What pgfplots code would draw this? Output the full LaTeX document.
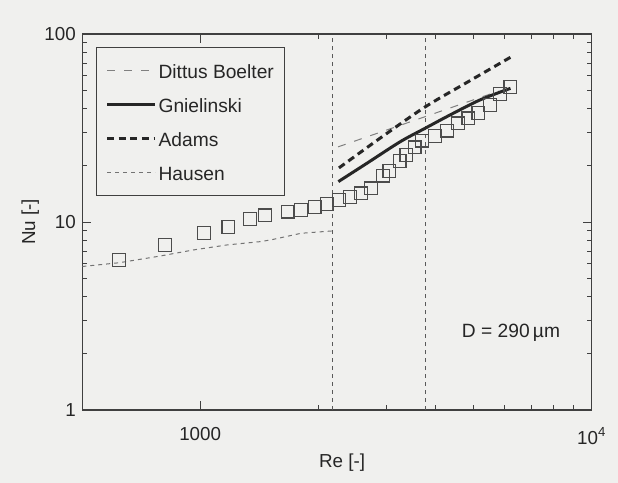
\documentclass[border=0pt]{standalone}
\usepackage{pgfplots}
\pgfplotsset{compat=1.18}
\usepackage{fontspec}
\setmainfont{Liberation Sans}
\definecolor{bg}{RGB}{240,240,238}
\begin{document}
\fontsize{9.2}{11}\selectfont
\begin{tikzpicture}
\path[use as bounding box, fill=bg] (-41.15pt,-36.5pt) rectangle (267.85pt,205pt);
\begin{axis}[
  at={(0,0)}, anchor=south west,
  scale only axis, width=254.7pt, height=188pt,
  xmode=log, ymode=log,
  xmin=500, xmax=10000, ymin=1, ymax=100,
  xtick={1000,10000}, xticklabels={1000,10\textsuperscript{4}},
  ytick={1,10,100}, yticklabels={1,10,100},
  /pgf/number format/assume math mode=true,
  tick align=inside,
  major tick length=4.5pt, minor tick length=2.5pt,
  axis line style={draw=black!75, line width=0.6pt},
  every tick/.style={draw=black!75, line width=0.5pt},
  tick label style={font=\fontsize{9.4}{11}\selectfont, text=black!85},
  xticklabel style={yshift=-5.5pt},
  label style={font=\fontsize{9.4}{11}\selectfont, text=black!85},
  xlabel={Re [-]}, ylabel={Nu [-]},
  xlabel style={at={(axis description cs:0.51,0)}, anchor=center, yshift=-26.5pt},
  ylabel style={at={(axis description cs:-0.102,0.5)}, anchor=center},
  legend style={at={(0.0269,0.9662)}, anchor=north west, draw=black!75,
    line width=0.6pt, fill=bg, font=\fontsize{9.6}{11}\selectfont,
    inner xsep=4.5pt, inner ysep=5.5pt, row sep=5pt, text=black!85,
    cells={anchor=west},
    nodes={inner sep=1pt, text height=9pt, text depth=1pt}},
  legend image code/.code={\draw[#1] (0pt,0pt) -- (24pt,0pt);},
]
% vertical transition lines
\addplot[forget plot, black!65, line width=0.6pt, dash pattern=on 2pt off 2pt] coordinates {(2180,1) (2180,100)};
\addplot[forget plot, black!65, line width=0.6pt, dash pattern=on 2pt off 2pt] coordinates {(3760,1) (3760,100)};
% Dittus Boelter
\addplot[black!50, line width=0.5pt, dash pattern=on 4pt off 4.5pt] coordinates {
 (2250,25.1) (3865,37.1) (5800,49.8)};
\addlegendentry{Dittus Boelter}
% Gnielinski
\addplot[black!85, line width=1.5pt, smooth] coordinates {
 (2254,16.4) (2663,20.5) (3240,26.7) (3752,31.5) (4347,37.1) (5185,44.6) (6202,51.4)};
\addlegendentry{Gnielinski}
% Adams
\addplot[black!85, line width=1.5pt, dash pattern=on 3.5pt off 2.3pt, smooth] coordinates {
 (2262,19.4) (2880,27.9) (3752,40.9) (4818,55.5) (6202,75.2)};
\addlegendentry{Adams}
% Hausen
\addplot[black!55, line width=0.5pt, dash pattern=on 2pt off 2pt] coordinates {
 (500,5.8) (620,6.07) (790,6.59) (960,7.1) (1170,7.55) (1420,7.86) (1510,8.02) (1810,8.71) (2170,8.96)};
\addlegendentry{Hausen}
% measurements
\addplot[forget plot, only marks, mark=square, mark size=3.2pt, mark options={draw=black!70, line width=0.6pt, fill=none}] coordinates {
 (621,6.28) (813,7.52) (1023,8.77) (1180,9.44) (1341,10.34) (1464,10.85) (1673,11.35)
 (1810,11.58) (1960,12.06) (2105,12.51) (2262,13.05) (2415,13.63) (2574,14.18) (2733,15.11)
 (2932,17.67) (3042,18.67) (3230,21.11) (3362,22.72) (3528,24.91) (3687,27.13) (3980,28.67)
 (4271,30.67) (4556,33.5) (4841,35.6) (5134,38.1) (5502,41.9) (5833,48.0) (6202,52.4)};
\node[font=\fontsize{9.6}{11}\selectfont, text=black!85] at (rel axis cs:0.8416,0.205) {D = 290\,µm};
\end{axis}
\end{tikzpicture}
\end{document}
